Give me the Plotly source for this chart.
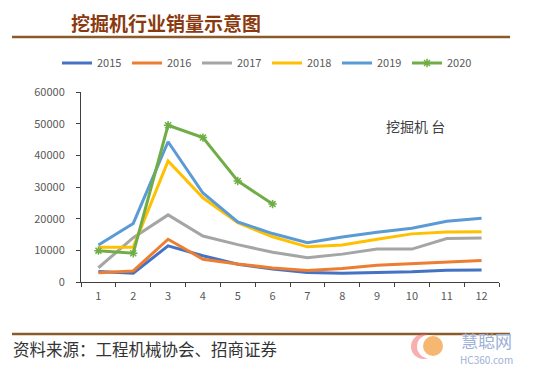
import plotly.graph_objects as go

months = ["1", "2", "3", "4", "5", "6", "7", "8", "9", "10", "11", "12"]
s2015 = [3300, 2800, 11400, 8300, 5600, 4100, 3000, 2800, 3000, 3200, 3700, 3800]
s2016 = [2900, 3500, 13500, 7200, 5700, 4400, 3600, 4300, 5300, 5800, 6500, 6800]
s2017 = [4500, 14000, 21200, 14500, 11800, 9400, 7700, 8800, 10400, 10400, 13700, 13900]
s2018 = [11000, 11000, 38200, 26600, 18700, 14300, 11100, 11700, 13500, 15200, 15800, 15900]
s2019 = [11700, 18500, 44300, 28100, 19000, 15300, 12400, 14200, 15700, 17000, 19200, 20100]
s2020 = [9900, 9100, 49500, 45600, 31900, 24600]
series = [
    ("2015", s2015, "#4472C4"),
    ("2016", s2016, "#ED7D31"),
    ("2017", s2017, "#A5A5A5"),
    ("2018", s2018, "#FFC000"),
    ("2019", s2019, "#5B9BD5"),
]

W, H = 540, 371
O = 8  # page body margin offset
# plot area in screen pixels
SL, SR, ST, SB = 81, 499, 92, 282
L, R, T, B = SL - O, SR - O, ST - O, SB - O

def px(x):
    return (x - SL) / (SR - SL)

def py(y):
    return (SB - y) / (SB - ST)

fig = go.Figure()
for name, vals, col in series:
    fig.add_trace(go.Scatter(x=months[:len(vals)], y=vals, name=name, mode="lines",
                             line=dict(color=col, width=3)))
fig.add_trace(go.Scatter(x=months[:len(s2020)], y=s2020, name="2020", mode="lines+markers",
                         line=dict(color="#70AD47", width=3),
                         marker=dict(symbol="asterisk-open", size=7,
                                     line=dict(color="#70AD47", width=1.5))))

fig.update_layout(
    width=W, height=H,
    margin=dict(l=L, r=W - R, t=T, b=H - B, autoexpand=False),
    paper_bgcolor="white", plot_bgcolor="white",
    font=dict(family="Noto Sans CJK SC, Noto Sans, sans-serif", color="#595959", size=11),
    showlegend=True,
    legend=dict(orientation="h", xref="container", yref="container",
                x=(57 - O) / W, xanchor="left", y=1 - (63 - O) / H, yanchor="middle",
                font=dict(size=11, color="#595959"), entrywidth=25, itemwidth=30,
                bgcolor="rgba(0,0,0,0)"),
    xaxis=dict(type="category", categoryorder="array", categoryarray=months,
               range=[-0.5, len(months) - 0.5], autorange=False,
               showline=True, linecolor="#404040", linewidth=1,
               ticks="outside", tickson="boundaries", ticklen=4, tickcolor="#404040",
               showgrid=False, zeroline=False, ticklabelstandoff=4,
               tickfont=dict(size=11, color="#595959")),
    yaxis=dict(range=[0, 60000], dtick=10000, tickformat="d", showline=True,
               linecolor="#404040", linewidth=1,
               ticks="outside", ticklen=4, tickcolor="#404040", showgrid=False, zeroline=False,
               ticklabelstandoff=9, tickfont=dict(size=11, color="#595959")),
    shapes=[
        dict(type="line", xref="paper", yref="paper", x0=px(12), x1=px(510), y0=py(37), y1=py(37),
             line=dict(color="#8B5A2B", width=2.5)),
        dict(type="line", xref="paper", yref="paper", x0=px(12), x1=px(510), y0=py(334), y1=py(334),
             line=dict(color="#8B5A2B", width=2.5)),
        # watermark logo
        dict(type="circle", xref="paper", yref="paper", x0=px(411), x1=px(436),
             y0=py(359), y1=py(334), fillcolor="rgba(240,110,110,0.55)", line=dict(width=0),
             layer="above"),
        dict(type="circle", xref="paper", yref="paper", x0=px(417), x1=px(440),
             y0=py(358), y1=py(335), fillcolor="white", line=dict(width=0), layer="above"),
        dict(type="circle", xref="paper", yref="paper", x0=px(423), x1=px(443),
             y0=py(356), y1=py(336), fillcolor="rgba(245,170,90,0.85)", line=dict(width=0),
             layer="above"),
    ],
    annotations=[
        dict(text="<b>挖掘机行业销量示意图</b>", xref="paper", yref="paper", x=px(69), y=py(22),
             xanchor="left", yanchor="middle", showarrow=False,
             font=dict(size=19, color="#8B3A0F", family="Noto Sans CJK SC")),
        dict(text="挖掘机 台", xref="paper", yref="paper", x=px(415), y=py(126),
             xanchor="center", yanchor="middle", showarrow=False,
             font=dict(size=14, color="#404040")),
        dict(text="资料来源：工程机械协会、招商证券", xref="paper", yref="paper", x=px(11), y=py(349),
             xanchor="left", yanchor="middle", showarrow=False,
             font=dict(size=16.5, color="#333333", family="Noto Sans CJK SC")),
        dict(text="慧聪网", xref="paper", yref="paper", x=px(486), y=py(340),
             xanchor="center", yanchor="middle", showarrow=False,
             font=dict(size=17, color="#9DB0D8")),
        dict(text="HC360.com", xref="paper", yref="paper", x=px(486), y=py(359),
             xanchor="center", yanchor="middle", showarrow=False,
             font=dict(size=10, color="#9DB0D8")),
    ],
)

fig.write_html("out.html")
